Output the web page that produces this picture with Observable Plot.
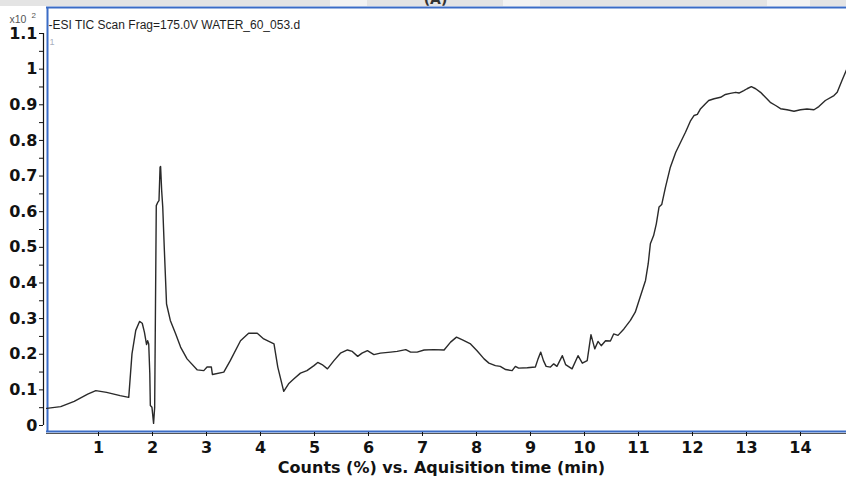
<!DOCTYPE html>
<html>
<head>
<meta charset="utf-8">
<script src="https://cdn.jsdelivr.net/npm/d3@7"></script>
<script src="https://cdn.jsdelivr.net/npm/@observablehq/plot@0.6"></script>
<style>
  html, body { margin: 0; padding: 0; background: #fff; overflow: hidden; }
  #wrap { position: relative; width: 846px; height: 484px; }
  /* light grey strip along the top edge of the sheet */
  #strip {
    position: absolute; left: 0; top: 0; width: 846px; height: 6px;
    background: linear-gradient(to right,
      #e4e4e4 0 330px, #f3f3f3 330px 367px, #e4e4e4 367px 503px,
      #f3f3f3 503px 540px, #e4e4e4 540px 767px, #f3f3f3 767px 810px, #e4e4e4 810px);
  }
  #chart { position: absolute; left: 0; top: 0; }
</style>
</head>
<body>
<div id="wrap"><div id="strip"></div><div id="chart"></div></div>
<script>
// Total ion chromatogram: acquisition time (min) vs. counts (x10^2)
const times = [
  0.04, 0.30, 0.55, 0.80, 0.95, 1.15, 1.40, 1.56, 1.62, 1.69, 1.76, 1.81, 1.85, 1.89, 1.91, 1.93,
  1.95, 1.96, 1.99, 2.02, 2.04, 2.06, 2.07, 2.10, 2.12, 2.14, 2.15, 2.17, 2.19, 2.22, 2.26, 2.33,
  2.43, 2.52, 2.64, 2.83, 2.95, 3.01, 3.09, 3.11, 3.32, 3.44, 3.63, 3.78, 3.94, 4.06, 4.25, 4.32,
  4.43, 4.52, 4.62, 4.74, 4.86, 4.99, 5.06, 5.14, 5.24, 5.36, 5.48, 5.61, 5.70, 5.80, 5.88, 5.98,
  6.10, 6.22, 6.41, 6.53, 6.69, 6.78, 6.90, 7.03, 7.21, 7.40, 7.52, 7.63, 7.74, 7.89, 8.01, 8.14,
  8.23, 8.35, 8.44, 8.54, 8.66, 8.72, 8.78, 8.94, 9.09, 9.14, 9.19, 9.24, 9.29, 9.37, 9.43, 9.49,
  9.59, 9.65, 9.77, 9.88, 9.96, 10.05, 10.12, 10.19, 10.25, 10.31, 10.39, 10.48, 10.54, 10.62, 10.73, 10.85,
  10.94, 11.04, 11.13, 11.18, 11.22, 11.28, 11.33, 11.38, 11.43, 11.50, 11.59, 11.69, 11.78, 11.87, 11.96, 12.03,
  12.09, 12.15, 12.24, 12.30, 12.40, 12.52, 12.61, 12.70, 12.80, 12.86, 12.95, 13.01, 13.09, 13.17, 13.26, 13.35,
  13.44, 13.54, 13.63, 13.75, 13.88, 14.00, 14.12, 14.25, 14.34, 14.46, 14.62, 14.68, 14.77, 14.86
];
const counts = [
  0.048, 0.053, 0.068, 0.088, 0.098, 0.093, 0.084, 0.079, 0.201, 0.267, 0.292, 0.287, 0.262, 0.227, 0.238, 0.229,
  0.146, 0.056, 0.051, 0.006, 0.051, 0.426, 0.617, 0.627, 0.631, 0.725, 0.727, 0.659, 0.612, 0.491, 0.341, 0.295,
  0.257, 0.220, 0.187, 0.156, 0.154, 0.164, 0.164, 0.143, 0.150, 0.182, 0.238, 0.259, 0.259, 0.243, 0.229, 0.164,
  0.096, 0.117, 0.131, 0.147, 0.154, 0.168, 0.177, 0.171, 0.159, 0.182, 0.203, 0.212, 0.208, 0.194, 0.203, 0.210,
  0.199, 0.203, 0.206, 0.208, 0.213, 0.206, 0.206, 0.212, 0.213, 0.212, 0.234, 0.248, 0.240, 0.229, 0.210, 0.187,
  0.175, 0.168, 0.166, 0.157, 0.154, 0.166, 0.161, 0.162, 0.164, 0.187, 0.206, 0.182, 0.166, 0.164, 0.173, 0.166,
  0.196, 0.171, 0.159, 0.196, 0.175, 0.182, 0.255, 0.215, 0.236, 0.224, 0.238, 0.237, 0.257, 0.253, 0.271, 0.295,
  0.318, 0.365, 0.407, 0.454, 0.510, 0.533, 0.566, 0.613, 0.620, 0.669, 0.725, 0.767, 0.795, 0.823, 0.854, 0.870,
  0.873, 0.889, 0.903, 0.912, 0.917, 0.921, 0.929, 0.932, 0.935, 0.933, 0.940, 0.945, 0.951, 0.945, 0.935, 0.921,
  0.907, 0.898, 0.889, 0.886, 0.882, 0.886, 0.888, 0.886, 0.895, 0.912, 0.926, 0.935, 0.969, 1.001
];

const xTicks = [1, 2, 3, 4, 5, 6, 7, 8, 9, 10, 11, 12, 13, 14];
const xTickLabels = ["1", "2", "3", "4", "5", "6", "7", "8", "9", "10", "11", "12", "13", "14"];
const yTicks = [0, 0.1, 0.2, 0.3, 0.4, 0.5, 0.6, 0.7, 0.8, 0.9, 1, 1.1];
const yTickLabels = ["0", "0.1", "0.2", "0.3", "0.4", "0.5", "0.6", "0.7", "0.8", "0.9", "1", "1.1"];
const yMinorTicks = [0.05, 0.15, 0.25, 0.35, 0.45, 0.55, 0.65, 0.75, 0.85, 0.95, 1.05];

const headerText = "-ESI TIC Scan Frag=175.0V WATER_60_053.d";
const scaleNote = "x10";
const scaleExp = "2";
const traceId = "1";
const panelTag = "(A)";
const xAxisTitle = "Counts (%) vs. Aquisition time (min)";

const xDomain = [0.037, 14.852];
const yDomain = [-0.0168, 1.173];

const rows = times.map((t, i) => ({t, v: counts[i]}));

const frameBlue = "#3b6cc6";
const ink = "#121212";

const chart = Plot.plot({
  width: 846,
  height: 484,
  marginLeft: 46,
  marginRight: 0,
  marginTop: 7,
  marginBottom: 53,
  style: {fontFamily: "DejaVu Sans", fontSize: "15px", background: "transparent", overflow: "visible"},
  x: {type: "linear", domain: xDomain, label: null},
  y: {type: "linear", domain: yDomain, label: null},
  marks: [
    // plot frame: top, left, bottom edges
    Plot.ruleY([yDomain[1]], {stroke: frameBlue, strokeWidth: 2}),
    Plot.ruleX([xDomain[0]], {stroke: frameBlue, strokeWidth: 2, dx: 1}),
    Plot.ruleY([yDomain[0]], {stroke: frameBlue, strokeWidth: 2}),
    Plot.ruleY([yDomain[0]], {stroke: "#555", strokeWidth: 1, dy: 2}),
    // y axis line, offset left of the frame
    Plot.ruleX([xDomain[0]], {y1: 0, y2: 1.1, stroke: ink, strokeWidth: 1.2, dx: -3}),
    Plot.axisY(yTicks, {
      anchor: "left", dx: -3, tickSize: 4, tickPadding: 2, stroke: ink, fill: ink,
      fontSize: 16, fontWeight: "bold", label: null,
      tickFormat: d => yTickLabels[yTicks.indexOf(d)]
    }),
    Plot.axisY(yMinorTicks, {anchor: "left", dx: -3, tickSize: 4, stroke: ink, text: null, label: null}),
    Plot.axisX(xTicks, {
      anchor: "bottom", dy: 1, tickSize: 4, tickPadding: 5, stroke: ink, fill: ink,
      fontSize: 16, fontWeight: "bold", label: null,
      tickFormat: d => xTickLabels[xTicks.indexOf(d)]
    }),
    Plot.text([xAxisTitle], {frameAnchor: "bottom", dx: -5, dy: 41, fontSize: 16, fontWeight: "bold", fill: ink}),
    // annotations
    Plot.text([headerText], {
      frameAnchor: "top-left", dx: 2, dy: 13, textAnchor: "start",
      fontFamily: "Liberation Sans", fontSize: 12, fill: "#1e1e1e"
    }),
    Plot.text([scaleNote], {
      frameAnchor: "top-left", dx: -37, dy: 8, textAnchor: "start",
      fontFamily: "Liberation Sans", fontSize: 10.5, fill: "#555"
    }),
    Plot.text([scaleExp], {
      frameAnchor: "top-left", dx: -15, dy: 5, textAnchor: "start",
      fontFamily: "Liberation Sans", fontSize: 8, fill: "#555"
    }),
    Plot.text([traceId], {
      frameAnchor: "top-left", dx: 3, dy: 31, textAnchor: "start",
      fontFamily: "Liberation Sans", fontSize: 9, fill: "#a8b0c0"
    }),
    Plot.text([panelTag], {
      frameAnchor: "top", dx: -11, dy: -13, fontSize: 14, fontWeight: "bold", fill: "#333"
    }),
    // chromatogram trace
    Plot.line(rows, {x: "t", y: "v", stroke: "#2a2a2a", strokeWidth: 1.4})
  ]
});

document.getElementById("chart").appendChild(chart);
</script>
</body>
</html>
